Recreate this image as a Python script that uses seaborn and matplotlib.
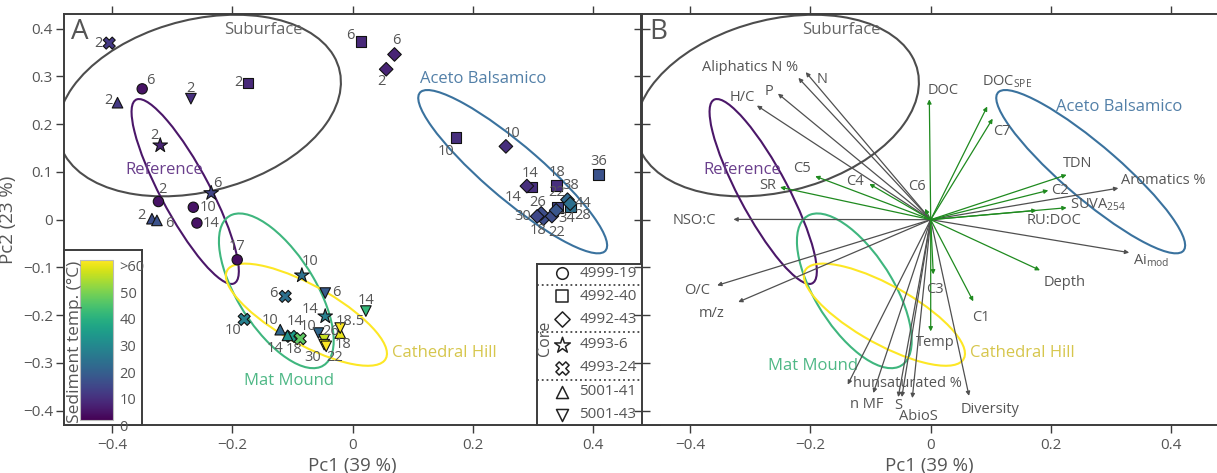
import pandas as pd
import seaborn as sns
import matplotlib.pyplot as plt
from matplotlib.patches import Ellipse
from matplotlib.cm import ScalarMappable
from matplotlib.colors import Normalize
from matplotlib.ticker import FuncFormatter

sns.set_style("white")
plt.rcParams["font.family"] = ["Open Sans", "DejaVu Sans"]
plt.rcParams["mathtext.fontset"] = "custom"
plt.rcParams["mathtext.rm"] = "Open Sans"

# ---------------- panel A: samples ----------------
core = (["4999-19"] * 5 + ["4992-40"] * 8 + ["4992-43"] * 11 + ["4993-6"] * 4
        + ["4993-24"] * 5 + ["5001-41"] * 6 + ["5001-43"] * 8)
pc1 = [-0.350, -0.323, -0.265, -0.259, -0.192,
       -0.174, 0.0136, 0.1716, 0.2979, 0.3383, 0.3405, 0.3616, 0.4087,
       0.0557, 0.0695, 0.2547, 0.2896, 0.3172, 0.3312, 0.3134, 0.3067, 0.3383, 0.3571, 0.3616,
       -0.320, -0.2353, -0.0845, -0.0457,
       -0.4048, -0.1122, -0.1804, -0.1027, -0.0873,
       -0.391, -0.3338, -0.3255, -0.1205, -0.1084, -0.0208,
       -0.269, -0.0457, 0.0219, -0.0569, -0.0474, -0.0474, -0.0440, -0.0208]
pc2 = [0.274, 0.038, 0.026, -0.007, -0.084,
       0.286, 0.373, 0.172, 0.0683, 0.0718, 0.0251, 0.0264, 0.0942,
       0.315, 0.346, 0.1535, 0.0704, 0.0021, 0.0075, 0.0132, 0.0069, 0.0195, 0.0419, 0.0335,
       0.1556, 0.0557, -0.1167, -0.2025,
       0.3698, -0.1606, -0.2088, -0.2444, -0.2492,
       0.245, 0.002, -0.0015, -0.2304, -0.2423, -0.2375,
       0.2534, -0.1537, -0.1914, -0.2375, -0.2513, -0.2618, -0.2653, -0.2270]
depth = ["6", "2", "10", "14", "17",
         "2", "6", "10", "14", "18", "22", "28", "36",
         "2", "6", "10", "14", "18", "22", "26", "30", "34", "38", "44",
         "2", "6", "10", "14",
         "2", "6", "10", "14", "18",
         "2", "2", "6", "10", "14", "18.5",
         "2", "6", "14", "10", "26", "30", "22", "18"]
temp = [3, 3, 3, 3, 2,
        7, 7, 8, 8, 8, 12, 22, 15,
        6, 6, 8, 8, 14, 14, 14, 13, 16, 20, 22,
        6, 12, 22, 26,
        10, 22, 26, 33, 45,
        10, 14, 15, 20, 30, 58,
        8, 17, 40, 20, 55, 57, 60, 60]
# depth label offsets (pixels)
lab_dx = [8, 4, 15, 14, 0,
          -10, -11, -10, -2, 1, -1, 12, 0,
          -5, 2, 6, -14, -5, 5, -4, -14, 11, 3, 13,
          -6, 6, 8, -15,
          -11, -12, -11, 4, -6,
          -9, -10, 12, -10, -12, 10,
          0, 11, 0, -10, 6, -12, 8, 3]
lab_dy = [8, 12, 0, 0, 13,
          1, 6, -14, 14, 13, 15, -8, 13,
          -12, 14, 13, -11, -12, -16, 11, 0, -8, 14, 0,
          10, 10, 14, 7,
          0, 3, -11, 15, -11,
          2, 3, -3, 9, -13, 12,
          10, 1, 11, 7, 8, -13, -11, -16]

core_order = ["4999-19", "4992-40", "4992-43", "4993-6", "4993-24", "5001-41", "5001-43"]
markers = {"4999-19": "o", "4992-40": "s", "4992-43": "D", "4993-6": "*",
           "4993-24": "X", "5001-41": "^", "5001-43": "v"}
msizes = {"4999-19": 55, "4992-40": 60, "4992-43": 48, "4993-6": 120,
          "4993-24": 75, "5001-41": 58, "5001-43": 58}

# ---------------- groups (confidence ellipses) ----------------
grp_name = ["Suburface", "Reference", "Aceto Balsamico", "Mat Mound", "Cathedral Hill"]
ell_cx = [-0.255, -0.2785, 0.266, -0.127, -0.077]
ell_cy = [0.239, 0.059, 0.1005, -0.149, -0.199]
ell_w = [0.493, 0.418, 0.453, 0.351, 0.323]
ell_h = [0.351, 0.084, 0.102, 0.135, 0.115]
ell_ang = [25.0, 112.6, -47.7, -65.4, -36.7]
ell_col = ["#4d4d4d", "#4b1769", "#3a729e", "#3fb67e", "#fde725"]
txt_col = ["#666666", "#6a3f8c", "#5380a8", "#4fb886", "#d6c64c"]
labA_x = [-0.148, -0.313, 0.2175, -0.106, 0.153]
labA_y = [0.398, 0.103, 0.295, -0.337, -0.279]
labB_x = [-0.149, -0.314, 0.3136, -0.195, 0.152]
labB_y = [0.398, 0.103, 0.237, -0.307, -0.279]

# ---------------- panel B: loadings ----------------
var_name = ["Aliphatics N %", "N", "P", "H/C", "NSO:C", "O/C", "m/z", "hunsaturated %",
            "n MF", "S", "", "AbioS", "Diversity", "Aromatics %", r"Ai$_\mathregular{mod}$",
            "DOC", r"DOC$_\mathregular{SPE}$", "C7", "TDN", "C2", r"SUVA$_\mathregular{254}$",
            "RU:DOC", "C5", "SR", "C4", "C6", "C3", "Temp", "C1", "Depth"]
load1 = [-0.220, -0.2078, -0.254, -0.289, -0.328, -0.355, -0.320, -0.138,
         -0.0954, -0.054, -0.048, -0.0306, 0.0637, 0.312, 0.330,
         -0.0023, 0.094, 0.103, 0.226, 0.1955, 0.226,
         0.176, -0.192, -0.2505, -0.102, -0.0095, 0.0043, 0.0, 0.0708, 0.1817]
load2 = [0.297, 0.309, 0.264, 0.239, 0.0006, -0.1376, -0.1725, -0.3455,
         -0.363, -0.3715, -0.3715, -0.3736, -0.369, 0.066, -0.069,
         0.252, 0.237, 0.2115, 0.094, 0.0613, 0.025,
         0.0195, 0.091, 0.068, 0.075, 0.023, -0.1146, -0.234, -0.171, -0.106]
var_kind = ["chem"] * 15 + ["env"] * 15
var_ha = ["right", "left", "right", "right", "right", "right", "right", "left",
          "right", "center", "center", "center", "left", "left", "left",
          "left", "left", "left", "left", "left", "left",
          "left", "right", "right", "right", "right", "center", "center", "left", "left"]
var_dx = [0, 11, -5, -2, -17, -7, -14, 5, 10, 0, 0, 6, -8, 3, 4,
          -2, -5, 0, -4, 3, 3, -10, -4, -4, -6, 1, 2, 5, -1, 4]
var_dy = [10, -7, 2, 8, -1, -5, -11, 1, -11, -8, 0, -18, -14, 8, -8,
          9, 25, -13, 11, 0, 3, -10, 8, 2, 2, 22, -15, -11, -16, -12]
kind_col = {"chem": "#505050", "env": "#1f8a1f"}

df = pd.DataFrame({"core": core, "pc1": pc1, "pc2": pc2, "depth": depth, "temp": temp})
ld = pd.DataFrame({"name": var_name, "pc1": load1, "pc2": load2, "kind": var_kind})

W, H = 1217, 473
TXT = "#555555"
SPINE = "#3c3c3c"
fig = plt.figure(figsize=(W / 100, H / 100), dpi=100)
axA = fig.add_axes([64 / W, 48 / H, 577.4 / W, 410.65 / H])


def fmt(v, _):
    if abs(v) < 1e-9:
        return "0"
    return f"{v:g}".replace("-", "\u2212")


def draw_ellipses(ax, lx, ly):
    for i in range(len(grp_name)):
        ax.add_patch(Ellipse((ell_cx[i], ell_cy[i]), ell_w[i], ell_h[i], angle=ell_ang[i],
                             fill=False, edgecolor=ell_col[i], lw=1.5, zorder=1))
        ax.text(lx[i], ly[i], grp_name[i], color=txt_col[i], fontsize=12,
                ha="center", va="center", zorder=2)


def style_axes(ax):
    for sp in ax.spines.values():
        sp.set_color(SPINE)
        sp.set_linewidth(1.4)
    ax.set_xticks([-0.4, -0.2, 0, 0.2, 0.4])
    ax.xaxis.set_major_formatter(FuncFormatter(fmt))
    ax.tick_params(axis="x", which="both", top=True, bottom=True, direction="out",
                   length=5.5, width=1, color=SPINE, labelcolor=TXT, labelsize=11, pad=4)
    ax.set_xlabel("Pc1 (39 %)", fontsize=13.5, color=TXT, labelpad=3)


# ---- A
draw_ellipses(axA, labA_x, labA_y)
sns.scatterplot(data=df, x="pc1", y="pc2", hue="temp", palette="viridis", hue_norm=(0, 60),
                style="core", markers=markers, size="core", sizes=msizes,
                edgecolor="#111111", linewidth=0.8, legend=False, ax=axA, zorder=3)
for i in range(len(df)):
    axA.annotate(depth[i], (pc1[i], pc2[i]), xytext=(lab_dx[i], lab_dy[i]),
                 textcoords="offset pixels", ha="center", va="center",
                 fontsize=10.5, color=TXT, zorder=4)
axA.set_xlim(-0.48, 0.48)
axA.set_ylim(-0.43, 0.43)
style_axes(axA)
axA.set_yticks([-0.4, -0.3, -0.2, -0.1, 0, 0.1, 0.2, 0.3, 0.4])
axA.yaxis.set_major_formatter(FuncFormatter(fmt))
axA.tick_params(axis="y", left=True, right=False, direction="out", length=5.5, width=1,
                color=SPINE, labelcolor=TXT, labelsize=11, pad=2.5)
axA.set_ylabel("Pc2 (23 %)", fontsize=13.5, color=TXT, labelpad=4)
fig.text(71 / W, 1 - 39 / H, "A", fontsize=20, color=TXT, va="baseline", ha="left")

# colour bar box
box = fig.add_axes([64 / W, 48 / H, 77.7 / W, 175 / H])
box.set_xticks([])
box.set_yticks([])
box.set_facecolor("white")
for sp in box.spines.values():
    sp.set_color(SPINE)
    sp.set_linewidth(1.4)
cax = fig.add_axes([80 / W, 53 / H, 32.7 / W, 160 / H])
sm = ScalarMappable(norm=Normalize(0, 60), cmap="viridis")
cb = fig.colorbar(sm, cax=cax)
cb.set_ticks([0, 10, 20, 30, 40, 50, 60])
cb.set_ticklabels(["0", "10", "20", "30", "40", "50", ">60"])
cb.outline.set_edgecolor("#bbbbbb")
cax.tick_params(length=0, labelsize=10.5, labelcolor=TXT, pad=5)
for t in cax.get_yticklabels():
    t.set_va("top")
fig.text(75 / W, 1 - 342 / H, "Sediment temp. (\u00b0C)", rotation=90, fontsize=12.5,
         color=TXT, ha="center", va="center")

# core legend box
lax = fig.add_axes([536.7 / W, 48 / H, 123.3 / W, 160.7 / H])
lax.set_xlim(0, 123.3)
lax.set_ylim(7, 0)
lax.set_xticks([])
lax.set_yticks([])
for sp in lax.spines.values():
    sp.set_color(SPINE)
    sp.set_linewidth(1.4)
rows = [0.4, 1.4, 2.4, 3.5, 4.5, 5.55, 6.55]
leg_sizes = {"4999-19": 70, "4992-40": 75, "4992-43": 60, "4993-6": 140,
             "4993-24": 90, "5001-41": 75, "5001-43": 75}
for r, c in zip(rows, core_order):
    lax.scatter(25, r, marker=markers[c], s=leg_sizes[c], facecolor="white",
                edgecolor="#222222", linewidth=1.1)
    lax.text(42.6, r, c, va="center", ha="left", fontsize=11, color=TXT, clip_on=False)
for y in [0.9, 2.95, 5.03]:
    lax.axhline(y, color="#444444", ls=":", lw=1.3)
lax.text(8.3, 3.22, "Core", rotation=90, ha="center", va="center", fontsize=11.5, color=TXT)

# ---- B
axB = fig.add_axes([642 / W, 48 / H, 575 / W, 410.65 / H])
axB.set_facecolor("white")
draw_ellipses(axB, labB_x, labB_y)
for i in range(len(ld)):
    col = kind_col[var_kind[i]]
    axB.annotate("", xy=(load1[i], load2[i]), xytext=(0, 0),
                 arrowprops=dict(arrowstyle="-|>", color=col, lw=0.9, mutation_scale=6,
                                 shrinkA=0, shrinkB=0), zorder=3)
    if var_name[i]:
        axB.annotate(var_name[i], (load1[i], load2[i]), xytext=(var_dx[i], var_dy[i]),
                     textcoords="offset pixels", ha=var_ha[i], va="center",
                     fontsize=10.5, color=TXT, zorder=4)
axB.set_xlim(-0.48, 0.476)
axB.set_ylim(-0.43, 0.43)
style_axes(axB)
axB.spines["right"].set_visible(False)
axB.set_yticks([-0.4, -0.3, -0.2, -0.1, 0, 0.1, 0.2, 0.3, 0.4])
axB.tick_params(axis="y", left=True, right=False, labelleft=False, direction="inout",
                length=11, width=1, color=SPINE)
axB.set_ylabel("")
fig.text(649 / W, 1 - 39 / H, "B", fontsize=20, color=TXT, va="baseline", ha="left")

fig.savefig("out.png", dpi=100)
